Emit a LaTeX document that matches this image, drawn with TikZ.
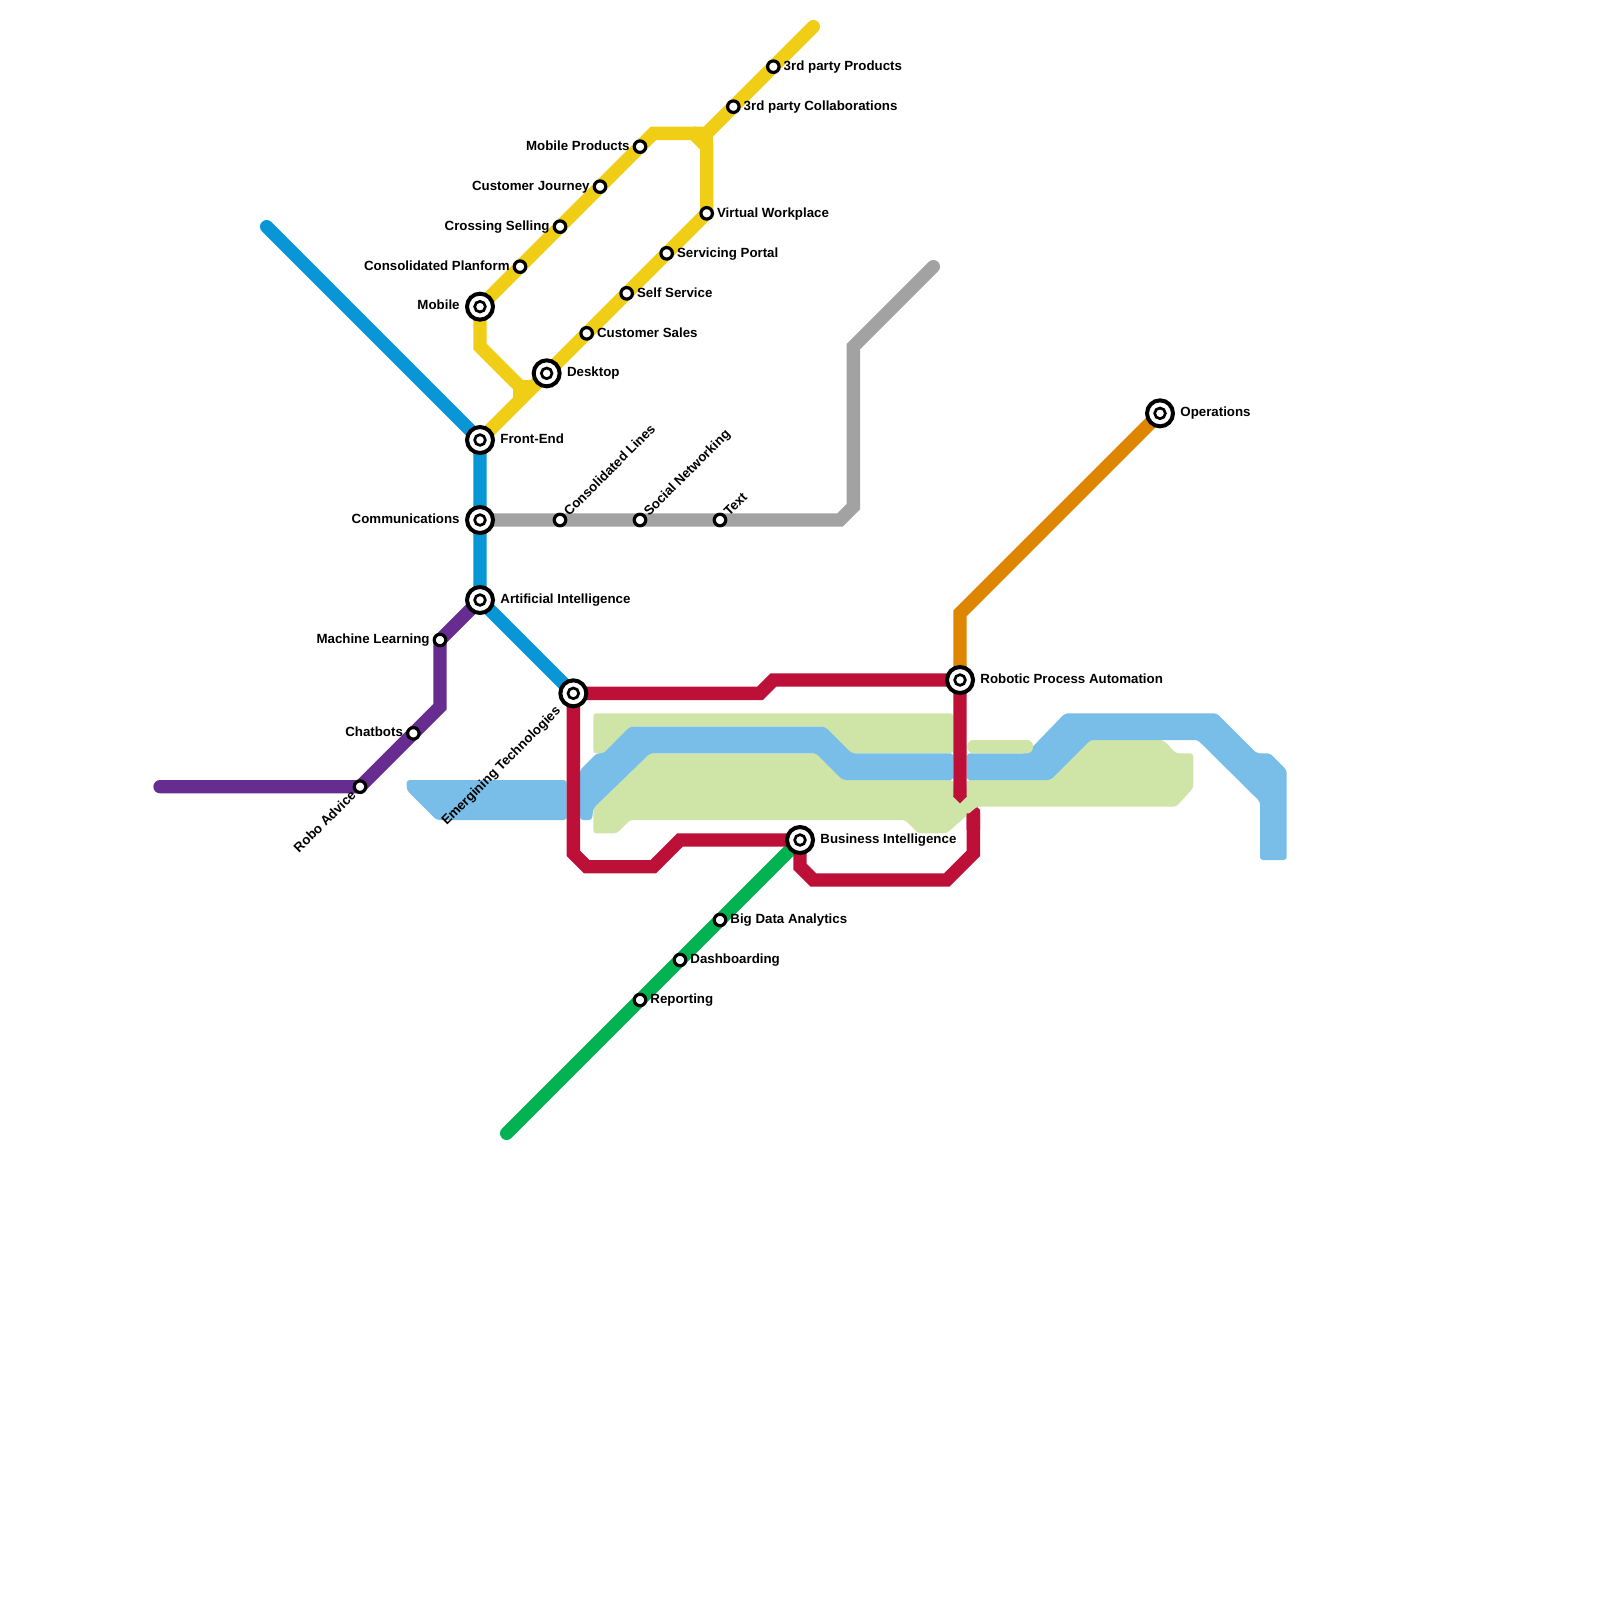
\documentclass[tikz,border=0pt]{standalone}
\usepackage{fontspec}
\setmainfont{Liberation Sans}
\pgfdeclarelayer{bg}
\pgfsetlayers{bg,main}
\definecolor{cblue}{HTML}{0896D7}
\definecolor{cyellow}{HTML}{F0CE15}
\definecolor{cgrey}{HTML}{A2A2A2}
\definecolor{corange}{HTML}{DF8600}
\definecolor{ccrimson}{HTML}{BD1038}
\definecolor{cpurple}{HTML}{662C90}
\definecolor{cgreen}{HTML}{00B251}
\definecolor{lblue}{HTML}{79BDE9}
\definecolor{lgreen}{HTML}{CFE4A7}
\tikzset{
  grid/.style={x=6.6667pt,y=-6.6667pt},
  bigst/.style={circle,draw=black,fill=white,line width=2pt,minimum size=13pt,inner sep=0pt,
    path picture={\draw[black,line width=1.35pt] (path picture bounding box.center) circle (2.67pt);}},
  smallst/.style={circle,draw=black,fill=white,line width=1.6pt,minimum size=5.75pt,inner sep=0pt},
  lbl/.style={font=\bfseries\fontsize{6.65pt}{7pt}\selectfont,inner sep=0pt,text=black},
  lr/.style={lbl,anchor=base west},
  ll/.style={lbl,anchor=base east},
  route/.style={line width=6.667pt,line cap=round,line join=miter,miter limit=10},
  patch/.style={rounded corners=1.5pt}
}
\begin{document}
\begin{tikzpicture}[x=0.5pt,y=-0.5pt]
\useasboundingbox (0,0) rectangle (1600,1600);
\begin{scope}[grid]
\node[bigst] (mobile) at (36,23) {};
\node[bigst] (frontend) at (36,33) {};
\node[bigst] (comm) at (36,39) {};
\node[bigst] (ai) at (36,45) {};
\node[bigst] (desktop) at (41,28) {};
\node[bigst] (emerging) at (43,52) {};
\node[bigst] (rpa) at (72,51) {};
\node[bigst] (bi) at (60,63) {};
\node[bigst] (ops) at (87,31) {};
\node[smallst] (mobprod) at (48,11) {};
\node[smallst] (custj) at (45,14) {};
\node[smallst] (cross) at (42,17) {};
\node[smallst] (consp) at (39,20) {};
\node[smallst] (collab) at (55,8) {};
\node[smallst] (prod3) at (58,5) {};
\node[smallst] (virt) at (53,16) {};
\node[smallst] (serv) at (50,19) {};
\node[smallst] (self) at (47,22) {};
\node[smallst] (custs) at (44,25) {};
\node[smallst] (consl) at (42,39) {};
\node[smallst] (social) at (48,39) {};
\node[smallst] (txt) at (54,39) {};
\node[smallst] (ml) at (33,48) {};
\node[smallst] (chat) at (31,55) {};
\node[smallst] (robo) at (27,59) {};
\node[smallst] (bda) at (54,69) {};
\node[smallst] (dash) at (51,72) {};
\node[smallst] (rep) at (48,75) {};
\coordinate (bluestart) at (20,17);
\coordinate (yelltop) at (61,2);
\coordinate (greyend) at (70,20);
\coordinate (purpstart) at (12,59);
\coordinate (greenend) at (38,85);
\end{scope}

\begin{pgfonlayer}{bg}
% crimson stub under the green area
\fill[ccrimson] (966.67,815) -- (976.7,806.7) -- (980,810) -- (980,830) -- (966.67,830) -- cycle;
% light green areas
\fill[lgreen,patch] (593.3,713.3) -- (953.3,713.3) -- (953.3,753.3) -- (850,753.3) -- (825,726.7) -- (630,726.7) -- (603,753.3) -- (593.3,753.3) -- cycle;
\fill[lgreen,patch] (650,753.3) -- (816,753.3) -- (842.7,780) -- (953.3,780) -- (953.3,790) -- (966.7,790) -- (966.7,780) -- (1050.7,780) -- (1090.7,740) -- (1163.3,740) -- (1176,753.3) -- (1193.3,753.3) -- (1193.3,788) -- (1176,806.7) -- (976.7,806.7) -- (946.7,833.3) -- (918.3,833.3) -- (905,820) -- (630,820) -- (616.7,833.3) -- (593.3,833.3) -- (593.3,808.3) -- cycle;
% light blue areas
\fill[lblue,patch] (406.7,780) -- (566.7,780) -- (566.7,820) -- (436.7,820) -- (406.7,790) -- cycle;
\fill[lblue,patch] (580,770) -- (596.7,753.3) -- (603.4,753.3) -- (630,726.7) -- (825,726.7) -- (851.7,753.3) -- (953.3,753.3) -- (953.3,780) -- (842.7,780) -- (816,753.3) -- (650,753.3) -- (593.3,808.3) -- (592,820) -- (580,820) -- cycle;
\fill[lblue,patch] (966.7,753.3) -- (1026,753.3) -- (1036,743.3) -- (1065,713.3) -- (1216.7,713.3) -- (1256.7,753.3) -- (1270,753.3) -- (1286.7,770) -- (1286.7,860) -- (1260,860) -- (1260,801.7) -- (1197.7,740) -- (1090.7,740) -- (1050.7,780) -- (966.7,780) -- cycle;
\fill[lgreen,rounded corners=3pt] (967.3,740) -- (1033,740) -- (1033,753.3) -- (967.3,753.3) -- cycle;
% lines
\begin{scope}[grid]
\draw[route,cblue] (bluestart) -- (frontend.center) -- (comm.center) -- (ai.center) -- (emerging.center);
\draw[route,cyellow] (frontend.center) -- (desktop.center) -- (custs.center) -- (self.center) -- (serv.center) -- (virt.center) -- (53,11) -- (52,10) -- (49,10) -- (mobprod.center) -- (custj.center) -- (cross.center) -- (consp.center) -- (mobile.center) -- (36,26) -- (39,29) -- (40,29);
\draw[route,cyellow] (39,29) -- (39,30);
\draw[route,cyellow,line cap=butt] (52,10) -- (53,10) -- (collab.center);
\draw[route,cyellow,line cap=butt] (53,11) -- (53,10);
\draw[route,cyellow] (53,10) -- (collab.center) -- (prod3.center) -- (yelltop);
\draw[route,cgrey] (comm.center) -- (consl.center) -- (social.center) -- (txt.center) -- (63,39) -- (64,38) -- (64,26) -- (greyend);
\draw[route,cpurple] (purpstart) -- (robo.center) -- (chat.center) -- (33,53) -- (ml.center) -- (ai.center);
\draw[route,cgreen] (bi.center) -- (bda.center) -- (dash.center) -- (rep.center) -- (greenend);
\draw[route,corange] (rpa.center) -- (72,46) -- (ops.center);
\draw[route,ccrimson,line cap=butt] (emerging.center) -- (57,52) -- (58,51) -- (rpa.center) -- (72,59.75);
\fill[ccrimson] (71.5,59.7) -- (72.5,59.7) -- (72.5,59.75) -- (72,60.25) -- (71.5,59.75) -- cycle;
\draw[route,ccrimson,line cap=butt] (emerging.center) -- (43,64) -- (44,65) -- (49,65) -- (51,63) -- (bi.center) -- (60,65) -- (61,66) -- (71,66) -- (73,64) -- (73,61);
\end{scope}
\end{pgfonlayer}

% labels
\node[ll] at ([shift={(-20,3)}]mobile.center) {Mobile};
\node[lr] at ([shift={(20,3)}]frontend.center) {Front-End};
\node[ll] at ([shift={(-20,3)}]comm.center) {Communications};
\node[lr] at ([shift={(20,3)}]ai.center) {Artificial Intelligence};
\node[lr] at ([shift={(20,3)}]desktop.center) {Desktop};
\node[lr] at ([shift={(20,3)}]rpa.center) {Robotic Process Automation};
\node[lr] at ([shift={(20,3)}]bi.center) {Business Intelligence};
\node[lr] at ([shift={(20,3)}]ops.center) {Operations};
\node[ll] at ([shift={(-10,4)}]mobprod.center) {Mobile Products};
\node[ll] at ([shift={(-10,4)}]custj.center) {Customer Journey};
\node[ll] at ([shift={(-10,4)}]cross.center) {Crossing Selling};
\node[ll] at ([shift={(-10,4)}]consp.center) {Consolidated Planform};
\node[lr] at ([shift={(10,4)}]collab.center) {3rd party Collaborations};
\node[lr] at ([shift={(10,4)}]prod3.center) {3rd party Products};
\node[lr] at ([shift={(10,4)}]virt.center) {Virtual Workplace};
\node[lr] at ([shift={(10,4)}]serv.center) {Servicing Portal};
\node[lr] at ([shift={(10,4)}]self.center) {Self Service};
\node[lr] at ([shift={(10,4)}]custs.center) {Customer Sales};
\node[ll] at ([shift={(-10,3)}]ml.center) {Machine Learning};
\node[ll] at ([shift={(-10,3)}]chat.center) {Chatbots};
\node[lr] at ([shift={(10,3)}]bda.center) {Big Data Analytics};
\node[lr] at ([shift={(10,3)}]dash.center) {Dashboarding};
\node[lr] at ([shift={(10,3)}]rep.center) {Reporting};
\node[lr,rotate=45] at ([shift={(9,-3)}]consl.center) {Consolidated Lines};
\node[lr,rotate=45] at ([shift={(9,-3)}]social.center) {Social Networking};
\node[lr,rotate=45] at ([shift={(9,-3)}]txt.center) {Text};
\node[ll,rotate=45] at ([shift={(-12,18)}]emerging.center) {Emergining Technologies};
\node[ll,rotate=45] at ([shift={(-3,9)}]robo.center) {Robo Advice};
\end{tikzpicture}
\end{document}
